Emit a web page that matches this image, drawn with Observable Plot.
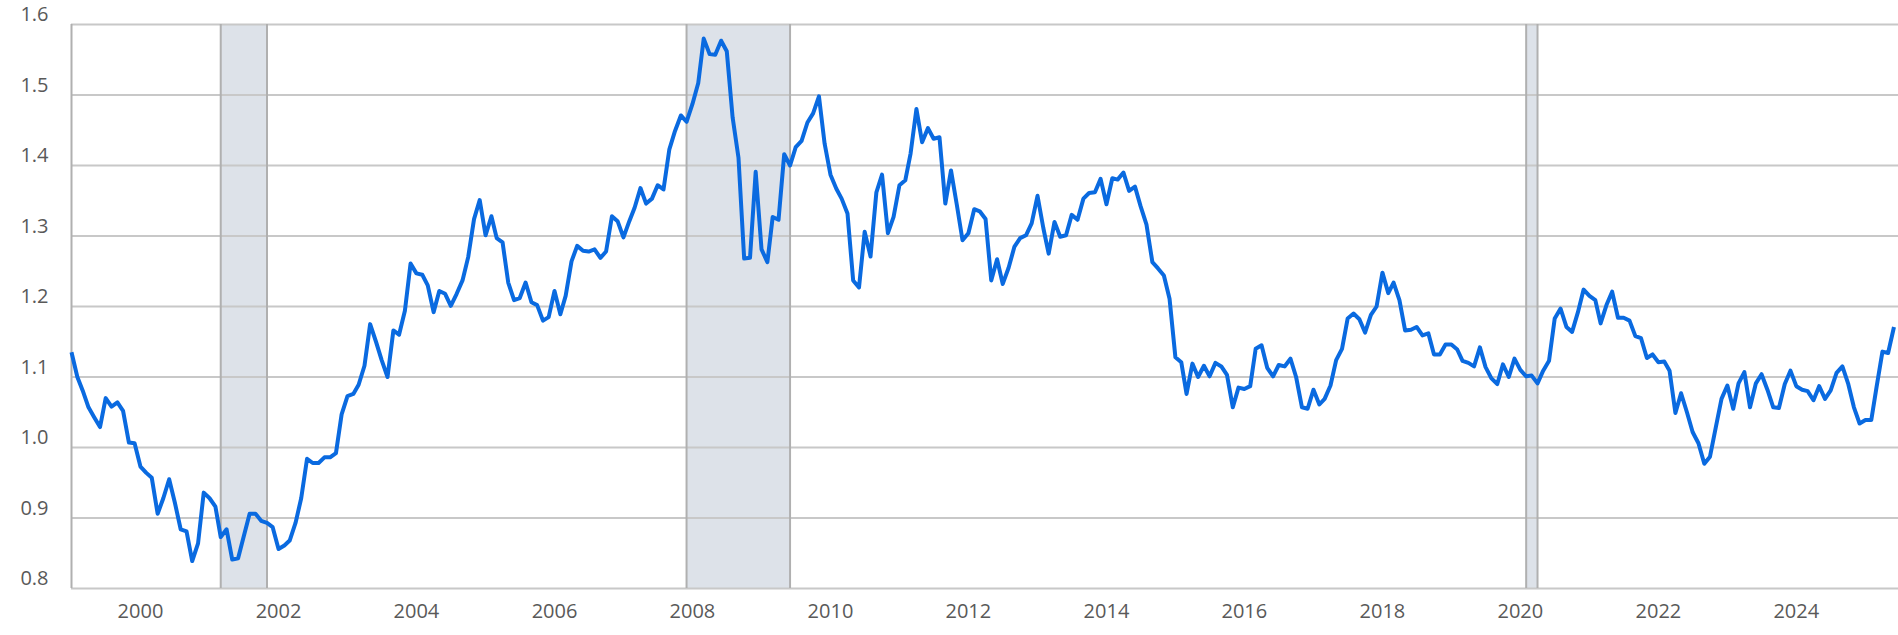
<!DOCTYPE html>
<html>
<head>
<meta charset="utf-8">
<script src="https://cdn.jsdelivr.net/npm/d3@7"></script>
<script src="https://cdn.jsdelivr.net/npm/@observablehq/plot@0.6"></script>
<style>
  html, body { margin: 0; padding: 0; background: #ffffff; }
  #chart svg { display: block; }
</style>
</head>
<body>
<div id="chart"></div>
<script>
// Monthly values (U.S. dollars to one euro), starting January 1999
const startYear = 1999;
const rates1999to2003 = [
  1.135, 1.100, 1.081, 1.057, 1.043, 1.029, 1.070, 1.058, 1.064, 1.052, 1.007, 1.006,
  0.973, 0.964, 0.957, 0.906, 0.928, 0.955, 0.922, 0.884, 0.881, 0.839, 0.864, 0.936,
  0.928, 0.916, 0.873, 0.884, 0.841, 0.843, 0.874, 0.906, 0.906, 0.896, 0.893, 0.887,
  0.856, 0.861, 0.868, 0.893, 0.928, 0.984, 0.978, 0.978, 0.986, 0.986, 0.992, 1.047,
  1.073, 1.076, 1.089, 1.116, 1.175, 1.150, 1.124, 1.100, 1.166, 1.160, 1.194, 1.261
];
const rates2004to2008 = [
  1.247, 1.245, 1.230, 1.192, 1.222, 1.218, 1.201, 1.218, 1.237, 1.270, 1.324, 1.351,
  1.301, 1.328, 1.297, 1.291, 1.234, 1.209, 1.212, 1.234, 1.206, 1.202, 1.180, 1.185,
  1.222, 1.189, 1.215, 1.264, 1.286, 1.279, 1.278, 1.281, 1.269, 1.278, 1.328, 1.321,
  1.298, 1.321, 1.340, 1.368, 1.346, 1.353, 1.372, 1.366, 1.423, 1.449, 1.471, 1.462,
  1.487, 1.517, 1.580, 1.558, 1.557, 1.577, 1.562, 1.468, 1.411, 1.268, 1.269, 1.391
];
const rates2009to2013 = [
  1.281, 1.263, 1.327, 1.323, 1.416, 1.400, 1.426, 1.435, 1.461, 1.474, 1.498, 1.431,
  1.387, 1.367, 1.353, 1.332, 1.237, 1.227, 1.306, 1.271, 1.362, 1.387, 1.304, 1.327,
  1.372, 1.379, 1.417, 1.480, 1.433, 1.453, 1.438, 1.440, 1.346, 1.393, 1.344, 1.294,
  1.304, 1.338, 1.335, 1.324, 1.237, 1.267, 1.232, 1.255, 1.285, 1.297, 1.301, 1.318,
  1.357, 1.311, 1.275, 1.320, 1.299, 1.301, 1.330, 1.323, 1.353, 1.361, 1.362, 1.381
];
const rates2014to2018 = [
  1.345, 1.382, 1.380, 1.390, 1.364, 1.370, 1.342, 1.316, 1.263, 1.254, 1.244, 1.211,
  1.128, 1.121, 1.076, 1.119, 1.100, 1.116, 1.101, 1.120, 1.115, 1.103, 1.057, 1.085,
  1.083, 1.087, 1.140, 1.145, 1.113, 1.101, 1.117, 1.115, 1.126, 1.100, 1.057, 1.055,
  1.082, 1.061, 1.069, 1.088, 1.124, 1.140, 1.183, 1.190, 1.182, 1.163, 1.188, 1.200,
  1.248, 1.219, 1.234, 1.209, 1.166, 1.167, 1.171, 1.159, 1.162, 1.132, 1.132, 1.146
];
const rates2019to2023 = [
  1.146, 1.139, 1.123, 1.120, 1.115, 1.142, 1.114, 1.098, 1.090, 1.118, 1.100, 1.126,
  1.110, 1.101, 1.102, 1.091, 1.109, 1.123, 1.183, 1.197, 1.171, 1.164, 1.192, 1.224,
  1.215, 1.209, 1.176, 1.202, 1.221, 1.184, 1.184, 1.180, 1.158, 1.155, 1.127, 1.132,
  1.121, 1.122, 1.109, 1.049, 1.077, 1.050, 1.022, 1.006, 0.977, 0.987, 1.029, 1.069,
  1.088, 1.055, 1.091, 1.107, 1.057, 1.091, 1.104, 1.082, 1.057, 1.056, 1.090, 1.109
];
const rates2024to2025 = [
  1.087, 1.082, 1.080, 1.067, 1.087, 1.069, 1.081, 1.106, 1.115, 1.091, 1.057, 1.034,
  1.039, 1.039, 1.086, 1.136, 1.134, 1.171
];

// Shaded recession periods
const recessionStarts = ["2001-03-01", "2007-12-01", "2020-02-01"];
const recessionEnds   = ["2001-11-01", "2009-06-01", "2020-04-01"];

// Axis ticks
const yTicks = [0.8, 0.9, 1.0, 1.1, 1.2, 1.3, 1.4, 1.5, 1.6];
const xTickYears = [2000, 2002, 2004, 2006, 2008, 2010, 2012, 2014, 2016, 2018, 2020, 2022, 2024];

// Build tables
const allRates = [].concat(rates1999to2003, rates2004to2008, rates2009to2013,
                           rates2014to2018, rates2019to2023, rates2024to2025);
const series = allRates.map((v, i) => ({ date: new Date(Date.UTC(startYear, i, 1)), value: v }));
const recessions = recessionStarts.map((s, i) => ({ start: new Date(s), end: new Date(recessionEnds[i]) }));
const recessionEdges = recessions.flatMap(r => [r.start, r.end]);
const xTicks = xTickYears.map(y => new Date(Date.UTC(y, 0, 1)));
const xStart = new Date(Date.UTC(startYear, 0, 1));
const xEnd = new Date(Date.UTC(2025, 5, 25));

const chart = Plot.plot({
  width: 1898,
  height: 635,
  marginTop: 24,
  marginBottom: 47,
  marginLeft: 71,
  marginRight: 0,
  style: { fontFamily: "'Open Sans', 'Noto Sans', sans-serif", fontSize: "20px", color: "#595959", background: "#ffffff", overflow: "visible" },
  x: { type: "utc", domain: [xStart, xEnd] },
  y: { domain: [0.8, 1.6] },
  marks: [
    Plot.rect(recessions, { x1: "start", x2: "end", y1: 0.8, y2: 1.6, fill: "#dde2e9" }),
    Plot.ruleY(yTicks, { stroke: "#c8c8c8", strokeWidth: 2 }),
    Plot.ruleX(recessionEdges, { y1: 0.8, y2: 1.6, stroke: "#b0b0b0", strokeWidth: 2 }),
    Plot.ruleX([xStart], { y1: 0.8, y2: 1.6, stroke: "#b0b0b0", strokeWidth: 2 }),
    Plot.line(series, { x: "date", y: "value", stroke: "#0a6ae0", strokeWidth: 4, strokeLinejoin: "round", strokeLinecap: "butt" }),
    Plot.axisY(yTicks, { tickSize: 0, tickPadding: 23, tickFormat: d3.format(".1f"), dy: -9.5, label: null, fill: "#595959" }),
    Plot.axisX(xTicks, { tickSize: 0, tickPadding: 15, tickFormat: d3.utcFormat("%Y"), label: null, fill: "#595959" })
  ]
});
document.getElementById("chart").append(chart);
</script>
</body>
</html>
